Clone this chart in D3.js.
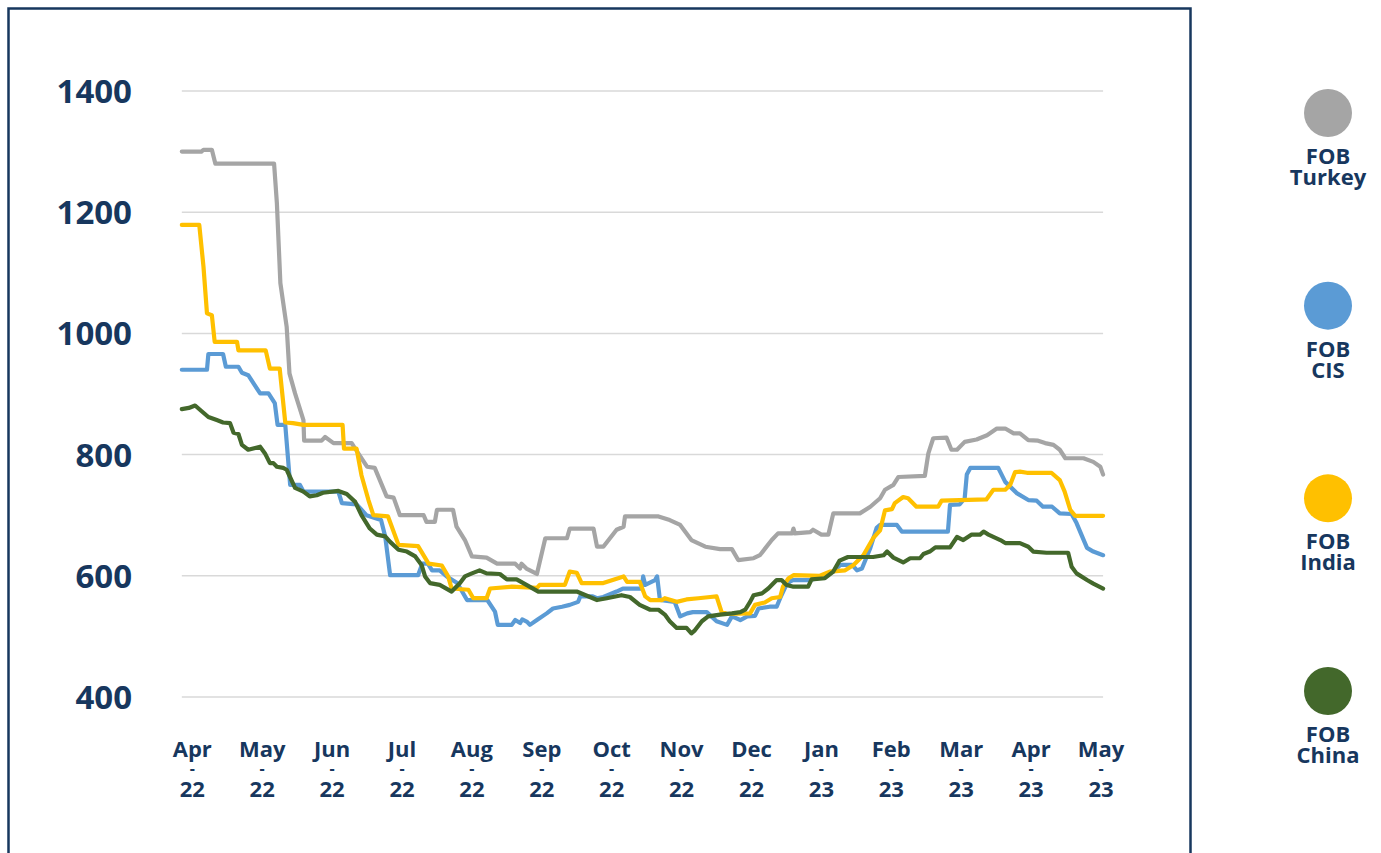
<!DOCTYPE html>
<html><head><meta charset="utf-8">
<script src="https://cdnjs.cloudflare.com/ajax/libs/d3/7.8.5/d3.min.js"></script>
<style>html,body{margin:0;padding:0;background:#fff;overflow:hidden}svg{display:block}</style>
</head><body>
<svg id="chart" width="1381" height="853"></svg>
<script>
// Month tick labels (x position unit = months since Apr-22)
const monthLabels = ["Apr","May","Jun","Jul","Aug","Sep","Oct","Nov","Dec","Jan","Feb","Mar","Apr","May"];
const yearLabels  = ["22","22","22","22","22","22","22","22","22","23","23","23","23","23"];
const yTicks = [400, 600, 800, 1000, 1200, 1400];
const seriesNames = ["FOB Turkey", "FOB CIS", "FOB India", "FOB China"];
const seriesColors = ["#a5a5a5", "#5b9bd5", "#ffc000", "#43682b"];

// [month position, USD/t]
const fobTurkey = [[-0.15,1300],[0.13,1300],[0.16,1303],[0.28,1303],[0.33,1280],[1.17,1280],[1.21,1215],[1.26,1083],[1.35,1011],[1.39,934],[1.47,901],[1.59,857],[1.60,823],[1.85,823],[1.90,829],[2.02,819],[2.28,819],[2.33,810],[2.50,780],[2.61,778],[2.78,731],[2.88,729],[2.97,700],[3.31,700],[3.35,689],[3.47,689],[3.50,709],[3.73,709],[3.78,681],[3.90,659],[4.00,632],[4.21,630],[4.36,620],[4.62,620],[4.69,612],[4.71,620],[4.78,612],[4.93,603],[5.05,662],[5.36,662],[5.40,678],[5.74,678],[5.79,648],[5.88,648],[6.07,676],[6.17,681],[6.19,698],[6.67,698],[6.83,692],[6.98,684],[7.14,659],[7.34,648],[7.55,644],[7.72,644],[7.81,626],[8.03,629],[8.12,634],[8.29,659],[8.38,670],[8.58,670],[8.60,678],[8.62,670],[8.84,672],[8.88,676],[9.00,668],[9.10,668],[9.17,703],[9.55,703],[9.70,714],[9.84,728],[9.91,742],[10.03,750],[10.10,763],[10.48,765],[10.53,802],[10.60,827],[10.79,828],[10.86,808],[10.94,808],[11.05,821],[11.22,825],[11.37,832],[11.51,843],[11.63,843],[11.75,835],[11.84,835],[11.96,824],[12.10,823],[12.20,819],[12.32,816],[12.41,808],[12.49,794],[12.75,794],[12.89,788],[12.99,780],[13.03,767]];
const fobCIS = [[-0.15,940],[0.21,940],[0.23,966],[0.44,966],[0.48,945],[0.66,945],[0.71,935],[0.80,931],[0.97,901],[1.09,901],[1.18,885],[1.22,849],[1.33,849],[1.40,750],[1.54,750],[1.59,739],[2.09,739],[2.14,720],[2.35,718],[2.42,709],[2.49,700],[2.70,692],[2.76,665],[2.83,601],[3.23,601],[3.29,620],[3.37,620],[3.43,609],[3.54,609],[3.64,599],[3.79,588],[3.93,560],[4.22,560],[4.33,541],[4.37,519],[4.57,519],[4.62,527],[4.69,522],[4.72,528],[4.79,524],[4.83,519],[4.93,527],[5.07,538],[5.16,546],[5.29,549],[5.40,552],[5.52,557],[5.55,566],[5.73,566],[5.79,563],[5.88,565],[6.07,574],[6.16,579],[6.43,579],[6.45,599],[6.48,585],[6.62,593],[6.65,599],[6.69,560],[6.90,557],[6.98,533],[7.08,538],[7.16,540],[7.36,540],[7.50,525],[7.65,519],[7.72,533],[7.84,527],[7.94,533],[8.05,534],[8.10,546],[8.26,549],[8.36,549],[8.41,563],[8.51,588],[8.59,593],[8.84,593],[8.94,596],[9.05,601],[9.17,607],[9.27,618],[9.44,618],[9.51,609],[9.58,612],[9.70,646],[9.79,679],[9.84,684],[10.08,684],[10.15,673],[10.81,673],[10.84,717],[10.98,718],[11.05,728],[11.08,767],[11.13,778],[11.53,778],[11.63,755],[11.80,736],[11.96,725],[12.08,724],[12.17,714],[12.30,714],[12.41,703],[12.58,702],[12.65,687],[12.73,665],[12.80,646],[12.89,640],[13.03,634]];
const fobIndia = [[-0.15,1179],[0.10,1179],[0.16,1110],[0.21,1033],[0.28,1030],[0.32,986],[0.64,986],[0.66,972],[1.05,972],[1.11,942],[1.25,942],[1.33,853],[1.44,852],[1.59,849],[2.15,849],[2.17,810],[2.35,810],[2.42,766],[2.52,725],[2.59,700],[2.80,698],[2.95,651],[3.23,649],[3.38,620],[3.57,617],[3.66,599],[3.71,579],[3.95,577],[4.02,563],[4.21,563],[4.26,579],[4.57,582],[4.93,580],[4.97,585],[5.33,585],[5.40,607],[5.50,605],[5.57,588],[5.88,588],[6.17,599],[6.22,590],[6.40,590],[6.48,566],[6.55,560],[6.72,560],[6.76,563],[6.93,557],[7.07,561],[7.24,563],[7.41,565],[7.50,566],[7.57,541],[7.65,537],[7.98,538],[8.05,552],[8.19,556],[8.29,563],[8.41,565],[8.45,582],[8.53,596],[8.60,601],[8.98,600],[9.12,607],[9.34,609],[9.46,618],[9.60,634],[9.74,662],[9.84,675],[9.91,708],[10.01,710],[10.05,720],[10.17,730],[10.24,728],[10.36,714],[10.67,714],[10.72,724],[11.36,726],[11.46,742],[11.63,742],[11.70,750],[11.77,771],[11.84,772],[11.94,770],[12.29,770],[12.41,758],[12.48,739],[12.56,709],[12.63,699],[13.03,699]];
const fobChina = [[-0.15,875],[-0.05,877],[0.04,881],[0.13,872],[0.23,862],[0.35,857],[0.44,853],[0.54,852],[0.59,836],[0.66,834],[0.71,816],[0.80,808],[0.90,811],[0.97,813],[1.04,802],[1.11,786],[1.16,786],[1.21,780],[1.30,778],[1.35,775],[1.47,745],[1.59,739],[1.68,731],[1.78,733],[1.87,737],[2.09,740],[2.21,735],[2.33,722],[2.42,700],[2.54,678],[2.64,668],[2.76,665],[2.83,656],[2.95,643],[3.07,640],[3.19,632],[3.28,618],[3.33,599],[3.40,588],[3.54,585],[3.71,574],[3.83,588],[3.90,599],[4.00,604],[4.11,609],[4.21,604],[4.40,603],[4.50,594],[4.64,594],[4.78,585],[4.95,574],[5.50,574],[5.79,560],[5.93,563],[6.14,568],[6.26,565],[6.40,552],[6.55,544],[6.67,544],[6.76,536],[6.83,525],[6.93,514],[7.07,514],[7.14,505],[7.19,510],[7.29,525],[7.38,533],[7.55,536],[7.72,538],[7.84,540],[7.91,544],[7.98,557],[8.03,568],[8.15,571],[8.24,579],[8.36,593],[8.43,593],[8.50,585],[8.60,582],[8.81,582],[8.86,594],[9.05,596],[9.17,607],[9.26,625],[9.38,631],[9.74,631],[9.89,634],[9.94,640],[10.03,630],[10.17,622],[10.27,629],[10.41,629],[10.46,636],[10.55,640],[10.63,647],[10.84,647],[10.94,664],[11.03,659],[11.15,668],[11.27,668],[11.32,673],[11.39,668],[11.56,659],[11.63,654],[11.84,654],[11.96,648],[12.03,640],[12.22,638],[12.53,638],[12.58,615],[12.65,604],[12.80,593],[12.89,587],[13.03,579]];

const allSeries = [fobTurkey, fobCIS, fobIndia, fobChina];
const textColor = "#17375e";
const fontFam = "'Open Sans','Noto Sans',sans-serif";

const svg = d3.select("#chart");

// outer frame
svg.append("rect").attr("x", 8.5).attr("y", 8.5).attr("width", 1182).attr("height", 880)
  .attr("fill", "none").attr("stroke", textColor).attr("stroke-width", 2.5);

const x = d3.scaleLinear().domain([0, 13]).range([192.3, 1101]);
const y = d3.scaleLinear().domain([400, 1400]).range([697, 91]);

const xMin = d3.min(allSeries, s => s[0][0]);
const xMax = d3.max(allSeries, s => s[s.length - 1][0]);

// gridlines
svg.append("g").selectAll("line").data(yTicks).join("line")
  .attr("x1", x(xMin)).attr("x2", x(xMax))
  .attr("y1", d => y(d)).attr("y2", d => y(d))
  .attr("stroke", "#d9d9d9").attr("stroke-width", 1.5);

// y axis labels
const yAxis = d3.axisLeft(y).tickValues(yTicks).tickFormat(d3.format("d")).tickSize(0).tickPadding(0);
const yg = svg.append("g").attr("transform", "translate(132,0)").call(yAxis);
yg.select(".domain").remove();
yg.selectAll("text").attr("fill", textColor).attr("font-family", fontFam)
  .attr("font-weight", 700).attr("font-size", 33).attr("dy", "0.35em");

// x axis labels (three separate lines)
const xl = svg.append("g").attr("fill", textColor).attr("font-family", fontFam)
  .attr("font-weight", 700).attr("text-anchor", "middle");
xl.selectAll("text.m").data(monthLabels).join("text").attr("class", "m")
  .attr("x", (d, i) => x(i)).attr("y", 757).attr("font-size", 22).text(d => d);
xl.selectAll("text.d").data(monthLabels).join("text").attr("class", "d")
  .attr("x", (d, i) => x(i)).attr("y", 774).attr("font-size", 16).text("-");
xl.selectAll("text.yr").data(yearLabels).join("text").attr("class", "yr")
  .attr("x", (d, i) => x(i)).attr("y", 797).attr("font-size", 22).text(d => d);

// lines
const line = d3.line().x(d => x(d[0])).y(d => y(d[1])).curve(d3.curveLinear);
svg.append("g").selectAll("path").data(allSeries).join("path")
  .attr("d", line).attr("fill", "none")
  .attr("stroke", (d, i) => seriesColors[i]).attr("stroke-width", 4.2)
  .attr("stroke-linejoin", "round").attr("stroke-linecap", "round");

// legend
const leg = d3.scaleLinear().domain([0, 3]).range([113, 691]);
const lg = svg.append("g").selectAll("g").data(seriesNames).join("g")
  .attr("transform", (d, i) => `translate(1328,${leg(i)})`);
lg.append("circle").attr("r", 24).attr("fill", (d, i) => seriesColors[i]);
lg.append("text").attr("text-anchor", "middle").attr("fill", textColor)
  .attr("font-family", fontFam).attr("font-weight", 700).attr("font-size", 22)
  .attr("y", 51).text(d => d.split(" ")[0]);
lg.append("text").attr("text-anchor", "middle").attr("fill", textColor)
  .attr("font-family", fontFam).attr("font-weight", 700).attr("font-size", 22)
  .attr("y", 72).text(d => d.split(" ")[1]);
</script>
</body></html>
